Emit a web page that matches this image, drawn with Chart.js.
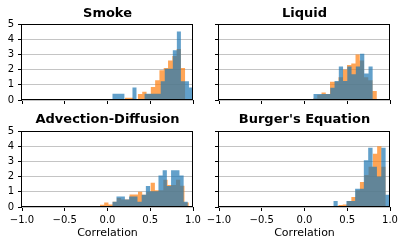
<!DOCTYPE html>
<html lang="en">
<head>
<meta charset="UTF-8">
<title>Correlation histograms</title>
<script src="https://cdn.jsdelivr.net/npm/chart.js"></script>
<style>
  body { margin: 0; background: #fff; }
  #wrap { position: relative; width: 407px; height: 248px; overflow: hidden; }
  #wrap canvas { position: absolute; }
</style>
</head>
<body>
<div id="wrap">
  <canvas id="c0" width="207" height="110" style="left:0;top:0"></canvas>
  <canvas id="c1" width="207" height="110" style="left:200px;top:0"></canvas>
  <canvas id="c2" width="207" height="138" style="left:0;top:110px"></canvas>
  <canvas id="c3" width="207" height="138" style="left:200px;top:110px"></canvas>
</div>

<script>
// titles / axes
const panelTitles = ['Smoke', 'Liquid', 'Advection-Diffusion', "Burger's Equation"];
const xLabel = 'Correlation';
const xTicks = [-1, -0.5, 0, 0.5, 1];
const yTicks = [0, 1, 2, 3, 4, 5];

// histogram densities (bin start, bin width, heights)
const smokeBlueStart = 0.056, smokeBlueWidth = 0.0472;
const smokeBlue = [0.41, 0.41, 0.41, 0, 0, 0.82, 0, 0, 0.41, 0.41, 0.41, 0.41, 1.23, 2.05, 2.05, 3.28, 4.51, 1.23, 1.23, 0.82];
const smokeOrangeStart = 0.205, smokeOrangeWidth = 0.0503;
const smokeOrange = [0.15, 0.15, 0, 0.4, 0.55, 0.4, 0.85, 1.3, 1.95, 2.1, 2.6, 2.9, 3.35, 2.1];

const liquidBlueStart = 0.103, liquidBlueWidth = 0.0497;
const liquidBlue = [0.4, 0.4, 0.4, 0.4, 0.8, 1.25, 2.2, 1.25, 2.2, 1.7, 2.2, 3.05, 1.75, 2.2];
const liquidOrangeStart = 0.05, liquidOrangeWidth = 0.0497;
const liquidOrange = [0.05, 0.1, 0.35, 0.5, 0.4, 1.2, 1.2, 1.5, 2.0, 2.3, 2.4, 3.0, 2.6, 1.5, 1.3, 0.6, 0.07];

const advBlueStart = 0.056, advBlueWidth = 0.0491;
const advBlue = [0.35, 0.69, 0.69, 0.5, 0.69, 0.69, 0.35, 0.8, 1.38, 1.03, 1.03, 2.07, 2.41, 1.38, 2.41, 2.41, 2.07, 0.35];
const advOrangeStart = -0.088, advOrangeWidth = 0.0494;
const advOrange = [0.15, 0.3, 0.17, 0.35, 0.6, 0.5, 0.5, 0.83, 0.83, 1.0, 0.8, 1.0, 1.6, 1.1, 1.1, 1.8, 1.45, 1.45, 1.8, 1.4, 0.3, 0.07];

const burgerBlueStart = 0.337, burgerBlueWidth = 0.051;
const burgerBlue = [0.4, 0, 0, 0.4, 0.4, 1.2, 1.2, 3.08, 3.9, 2.64, 2.0, 3.9, 0.8];
const burgerOrangeStart = 0.246, burgerOrangeWidth = 0.0503;
const burgerOrange = [0.04, 0.04, 0, 0.13, 0.17, 0.4, 0.65, 1.1, 1.65, 2.1, 2.64, 3.5, 4.0, 2.64];

const FONT = 'DejaVu Sans';
const BLUE = 'rgba(31, 119, 180, 0.7)';
const ORANGE = 'rgba(255, 127, 14, 0.7)';

// step points for a histogram: one point per left bin edge, closing at the last edge
function hist(start, width, values) {
  const pts = values.map((v, i) => ({ x: start + i * width, y: v }));
  pts.push({ x: start + values.length * width, y: 0 });
  return pts;
}

const fmt = v => v.toFixed(1).replace('-', '\u2212');

// box around each axes, like matplotlib spines
const frame = {
  id: 'frame',
  afterDatasetsDraw(chart) {
    const a = chart.chartArea, ctx = chart.ctx;
    const l = Math.round(a.left) - 0.5, t = Math.round(a.top) + 0.5;
    const r = Math.round(a.right) - 0.5, b = Math.round(a.bottom) - 0.5;
    ctx.save();
    ctx.strokeStyle = '#000';
    ctx.lineWidth = 1;
    ctx.strokeRect(l, t, r - l, b - t);
    ctx.restore();
  }
};

function makePanel(id, title, blue, orange, o) {
  return new Chart(document.getElementById(id), {
    type: 'line',
    data: {
      datasets: [
        { data: blue, backgroundColor: BLUE, borderWidth: 0, fill: 'origin', stepped: true, pointRadius: 0 },
        { data: orange, backgroundColor: ORANGE, borderWidth: 0, fill: 'origin', stepped: true, pointRadius: 0 }
      ]
    },
    options: {
      responsive: false,
      animation: false,
      devicePixelRatio: 1,
      layout: { padding: { left: 0, right: o.right, top: 0, bottom: 0 } },
      plugins: {
        legend: { display: false },
        tooltip: { enabled: false },
        title: {
          display: true, text: title, color: '#000', fullSize: false,
          font: { family: FONT, size: 13, weight: 'bold' },
          padding: o.titlePad
        }
      },
      scales: {
        x: {
          type: 'linear', min: -1, max: 1,
          afterBuildTicks: s => { s.ticks = xTicks.map(v => ({ value: v })); },
          afterFit: s => { s.height = o.xH; },
          grid: { drawOnChartArea: false, drawTicks: true, tickLength: 4, tickColor: '#000' },
          border: { display: false },
          ticks: {
            display: o.showX, autoSkip: false, maxRotation: 0, padding: 3, color: '#000',
            font: { family: FONT, size: 10 }, callback: v => fmt(v)
          },
          title: {
            display: o.showX, text: xLabel, color: '#000',
            font: { family: FONT, size: 11 }, padding: { top: 0, bottom: 8.5 }
          }
        },
        y: {
          type: 'linear', min: 0, max: 5,
          afterBuildTicks: s => { s.ticks = yTicks.map(v => ({ value: v })); },
          afterFit: s => { s.width = o.yW; },
          grid: { color: '#c4c4c4', lineWidth: 1, tickLength: 4, tickColor: '#000' },
          border: { display: false },
          ticks: {
            display: o.showY, padding: 4, color: '#000',
            font: { family: FONT, size: 10 }, callback: v => String(v)
          }
        }
      }
    },
    plugins: [frame]
  });
}

const topPad = { top: 6, bottom: 2.4 };
const botPad = { top: 1.7, bottom: 3.7 };

makePanel('c0', panelTitles[0],
  hist(smokeBlueStart, smokeBlueWidth, smokeBlue),
  hist(smokeOrangeStart, smokeOrangeWidth, smokeOrange),
  { right: 14, yW: 22, xH: 10, showX: false, showY: true, titlePad: topPad });

makePanel('c1', panelTitles[1],
  hist(liquidBlueStart, liquidBlueWidth, liquidBlue),
  hist(liquidOrangeStart, liquidOrangeWidth, liquidOrange),
  { right: 17, yW: 19, xH: 10, showX: false, showY: false, titlePad: topPad });

makePanel('c2', panelTitles[2],
  hist(advBlueStart, advBlueWidth, advBlue),
  hist(advOrangeStart, advOrangeWidth, advOrange),
  { right: 14, yW: 22, xH: 41, showX: true, showY: true, titlePad: botPad });

makePanel('c3', panelTitles[3],
  hist(burgerBlueStart, burgerBlueWidth, burgerBlue),
  hist(burgerOrangeStart, burgerOrangeWidth, burgerOrange),
  { right: 17, yW: 19, xH: 41, showX: true, showY: false, titlePad: botPad });
</script>
</body>
</html>
